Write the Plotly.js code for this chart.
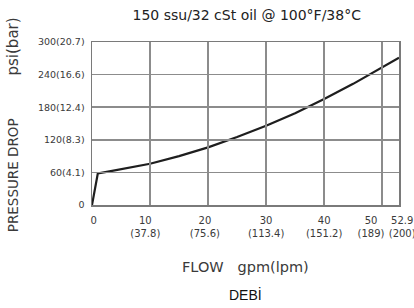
<!DOCTYPE html>
<html>
<head>
<meta charset="utf-8">
<script src="https://cdn.plot.ly/plotly-3.0.1.min.js"></script>
<style>html,body{margin:0;padding:0;background:#fff;}#chart{width:414px;height:308px;}</style>
</head>
<body>
<div id="chart"></div>
<script>
const flowGpm = [0, 1, 3, 5, 10, 15, 20, 25, 30, 35, 40, 45, 50, 52.9];
const pressurePsi = [0, 58, 62, 66, 76, 90, 106, 125, 146, 169, 195, 223, 254, 271];
const xTickVals = [0, 10, 20, 30, 40, 50, 52.9];
const xTickText = [
  "\u00a00",
  "10\u00a0\u00a0\u00a0<br>(37.8)\u00a0\u00a0\u00a0",
  "20\u00a0\u00a0<br>(75.6)\u00a0\u00a0",
  "30<br>(113.4)",
  "40<br>(151.2)",
  "50\u00a0\u00a0\u00a0\u00a0\u00a0\u00a0\u00a0<br>(189)\u00a0\u00a0\u00a0\u00a0\u00a0\u00a0\u00a0",
  "\u00a0\u00a052.9<br>\u00a0\u00a0(200)"
];
const yTickVals = [0, 60, 120, 180, 240, 300];
const yTickText = ["0", "60(4.1)", "120(8.3)", "180(12.4)", "240(16.6)", "300(20.7)"];

const trace = {
  x: flowGpm, y: pressurePsi, type: 'scatter', mode: 'lines',
  line: {color: '#1e1e1e', width: 2.2, shape: 'linear'},
  hoverinfo: 'skip'
};
const axisBase = {
  tickmode: 'array', showgrid: true, gridcolor: '#8c8c8c', gridwidth: 1.5,
  zeroline: false, showline: true, linecolor: '#7a7a7a', linewidth: 1.5, mirror: true,
  ticks: 'inside', tickcolor: '#8c8c8c', tickwidth: 1.5,
  fixedrange: true, ticklabeloverflow: 'allow'
};
const layout = {
  width: 414, height: 308,
  margin: {l: 92, r: 15, t: 42, b: 103},
  paper_bgcolor: '#fff', plot_bgcolor: '#fff',
  showlegend: false,
  font: {family: 'DejaVu Sans, Liberation Sans, Arial, sans-serif', color: '#333'},
  title: {text: '150 ssu/32 cSt oil @ 100°F/38°C', x: 0.596, xanchor: 'center', y: 0.952, yanchor: 'middle',
          font: {size: 14, color: '#222'}},
  xaxis: Object.assign({}, axisBase, {range: [0, 52.9], tickvals: xTickVals, ticktext: xTickText, tickangle: 0,
          ticklen: 163, ticklabelstandoff: 5, tickfont: {size: 10, color: '#3a3a3a'}}),
  yaxis: Object.assign({}, axisBase, {range: [0, 300], tickvals: yTickVals, ticktext: yTickText,
          ticklen: 307, ticklabelstandoff: 4, tickfont: {size: 9.5, color: '#3a3a3a'}}),
  annotations: [
    {text: 'PRESSURE DROP\u00a0\u00a0\u00a0\u00a0\u00a0\u00a0\u00a0\u00a0\u00a0\u00a0<span style="font-size:15px">psi(bar)</span>', xref: 'paper', yref: 'paper',
     x: -0.257, y: 0.49, xanchor: 'center', yanchor: 'middle', textangle: -90, showarrow: false,
     font: {size: 13.5, color: '#3a3a3a'}},
    {text: 'FLOW\u00a0\u00a0\u00a0gpm(lpm)', xref: 'paper', yref: 'paper', x: 0.499, y: -0.378,
     xanchor: 'center', yanchor: 'middle', showarrow: false, font: {size: 14.5, color: '#3a3a3a'}},
    {text: 'DEBİ', xref: 'paper', yref: 'paper', x: 0.499, y: -0.55,
     xanchor: 'center', yanchor: 'middle', showarrow: false,
     font: {family: 'Liberation Sans, Arial, sans-serif', size: 14, color: '#111'}}
  ]
};
Plotly.newPlot('chart', [trace], layout, {displayModeBar: false, staticPlot: true});
</script>
</body>
</html>
